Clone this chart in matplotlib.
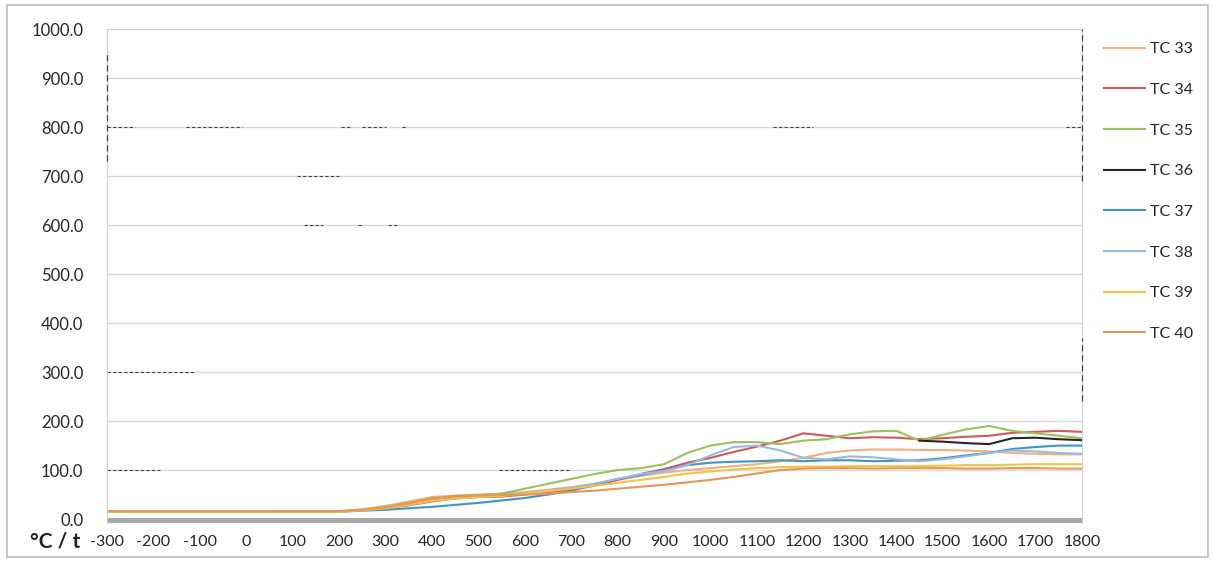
import numpy as np
import matplotlib
matplotlib.use("Agg")
import matplotlib.pyplot as plt
from matplotlib.patches import Rectangle

plt.rcParams['font.family'] = ['Lato', 'DejaVu Sans']

# ---- data ----
times = [-300, 0, 200, 250, 300, 350, 400, 450, 500, 550, 600, 650, 700, 750,
         800, 850, 900, 950, 1000, 1050, 1100, 1150, 1200, 1250, 1300, 1350,
         1400, 1450, 1500, 1550, 1600, 1650, 1700, 1750, 1800]

tc33 = [15, 15, 16, 20, 27, 36, 45, 48, 50, 52, 55, 60, 65, 72, 80, 88, 95, 100,
        104, 108, 112, 118, 125, 135, 140, 142, 142, 141, 141, 140, 138, 135,
        133, 132, 132]
tc34 = [15, 15, 16, 18, 22, 28, 36, 42, 45, 46, 50, 55, 60, 68, 80, 92, 102, 115,
        125, 137, 148, 160, 175, 170, 165, 167, 166, 163, 165, 168, 170, 176,
        178, 180, 178]
tc35 = [15, 15, 16, 19, 25, 33, 42, 47, 49, 52, 62, 72, 82, 92, 100, 104, 112,
        135, 150, 157, 157, 153, 160, 163, 173, 179, 180, 160, 172, 183, 190,
        180, 175, 170, 165]
tc36 = [np.nan] * 27 + [160, 158, 155, 153, 165, 166, 163, 161]
tc37 = [15, 15, 15, 17, 19, 22, 25, 29, 33, 38, 43, 50, 58, 70, 82, 90, 100, 110,
        115, 117, 118, 120, 118, 120, 120, 118, 119, 120, 124, 130, 135, 143,
        147, 150, 150]
tc38 = [15, 15, 15, 18, 23, 30, 38, 43, 46, 49, 53, 58, 64, 72, 82, 92, 98, 110,
        130, 147, 150, 140, 125, 122, 128, 126, 122, 118, 122, 128, 135, 140,
        138, 135, 133]
tc39 = [15, 15, 15, 18, 22, 29, 37, 42, 45, 47, 52, 57, 62, 68, 74, 80, 86, 93,
        97, 101, 104, 106, 107, 107, 108, 108, 108, 108, 109, 110, 110, 111,
        112, 112, 112]
tc40 = [16, 16, 16, 19, 24, 32, 42, 46, 48, 49, 50, 52, 55, 58, 62, 66, 70, 75,
        80, 86, 93, 100, 103, 104, 104, 103, 104, 104, 104, 103, 103, 104, 104,
        103, 103]

labels = ['TC 33', 'TC 34', 'TC 35', 'TC 36', 'TC 37', 'TC 38', 'TC 39', 'TC 40']
series = [tc33, tc34, tc35, tc36, tc37, tc38, tc39, tc40]
colors = ['#F2B07E', '#D05A5A', '#9DC05E', '#262626', '#3F95C4', '#9BB9DD',
          '#F2C443', '#E8965A']

xticks = list(range(-300, 1801, 100))
yticks = list(range(0, 1001, 100))

# ---- figure ----
W, H = 1213, 563
fig = plt.figure(figsize=(W / 100, H / 100), dpi=100)
fig.patch.set_facecolor('white')
ax = fig.add_axes([107 / W, 1 - 523 / H, (1082 - 107) / W, (523 - 29) / H])

# outer chart frame
fig.add_artist(Rectangle((7 / W, 6 / H), (1208 - 7) / W, (558 - 6) / H,
                         transform=fig.transFigure, fill=False,
                         edgecolor='#BDBDBD', lw=1.2))

for y in yticks[1:]:
    ax.axhline(y, color='#D9D9D9', lw=1.0, zorder=0)
ax.axhspan(-8, 1.5, color='#A8A8A8', zorder=1, lw=0)

for vals, lab, col in zip(series, labels, colors):
    ax.plot(times, np.array(vals, dtype=float), color=col, lw=1.5, label=lab,
            zorder=2)

# scan artifacts (dark dashed fragments on gridlines / edges)
frag_h = [(800, -300, -240), (800, -130, -10), (800, 205, 225), (800, 250, 300),
          (800, 335, 345), (800, 1135, 1220), (800, 1765, 1800),
          (700, 110, 200), (600, 125, 165), (600, 240, 250), (600, 305, 325),
          (300, -300, -110), (100, -300, -185), (100, 545, 700)]
for yv, x0, x1 in frag_h:
    ax.plot([x0, x1], [yv, yv], color='#444444', lw=0.8, ls=(0, (3, 2)), zorder=1.5)
ax.plot([-300, -300], [730, 955], color='#444444', lw=0.9, ls=(0, (5, 3)), zorder=3,
        clip_on=False)
ax.plot([1800, 1800], [690, 1000], color='#444444', lw=0.9, ls=(0, (5, 3)), zorder=3,
        clip_on=False)
ax.plot([1800, 1800], [240, 370], color='#444444', lw=0.9, ls=(0, (5, 3)), zorder=3,
        clip_on=False)

ax.set_xlim(-300, 1800)
ax.set_ylim(-8, 1000)
ax.set_xticks(xticks)
ax.set_xticklabels([str(v) for v in xticks])
ax.set_yticks(yticks)
ax.set_yticklabels(['%.1f' % v for v in yticks])
ax.tick_params(axis='both', length=0, colors='#262626')
ax.tick_params(axis='y', pad=17, labelsize=12)
ax.tick_params(axis='x', pad=9, labelsize=11.5)
ax.spines['bottom'].set_visible(False)
ax.spines['left'].set_color('#D0D0D0')
ax.spines['right'].set_color('#D0D0D0')
ax.spines['top'].set_color('#D0D0D0')

fig.text(55 / W, 1 - 542 / H, '\u00b0C / t', ha='center', va='center',
         fontsize=15, fontweight='bold', color='#222222')

leg = ax.legend(loc='upper left', bbox_to_anchor=(1104 / W, 1 - 42 / H),
                bbox_transform=fig.transFigure, frameon=False, fontsize=11.5,
                handlelength=2.55, handletextpad=0.35, labelspacing=1.66,
                borderpad=0, borderaxespad=0)
for t in leg.get_texts():
    t.set_color('#262626')

fig.savefig('out.png', dpi=100, facecolor='white')
